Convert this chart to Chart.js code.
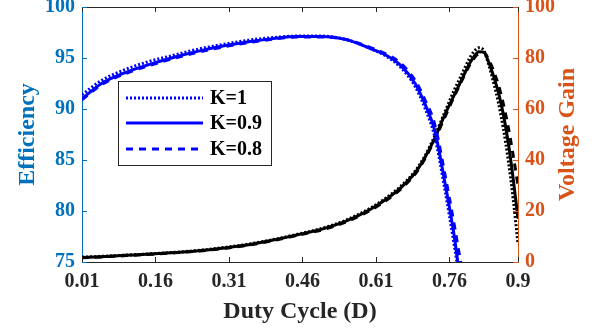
<!DOCTYPE html>
<html>
<head>
<meta charset="utf-8">
<script src="https://cdn.jsdelivr.net/npm/chart.js@4.4.1/dist/chart.umd.min.js"></script>
<style>
  html, body { margin: 0; padding: 0; background: #fff; }
</style>
</head>
<body>
<canvas id="chart" width="595" height="332"></canvas>
<script>
// data
const duty = [0.01, 0.05, 0.10, 0.15, 0.20, 0.25, 0.30, 0.35, 0.40, 0.45, 0.50, 0.55, 0.60,
              0.63, 0.66, 0.69, 0.71, 0.73, 0.75, 0.77, 0.78, 0.79, 0.80, 0.81, 0.82, 0.83,
              0.84, 0.85, 0.86, 0.87, 0.88, 0.89, 0.90];

// efficiency (%), left axis - stops once the curve leaves the plot
const effK1  = [91.4, 92.8, 93.9, 94.7, 95.3, 95.9, 96.35, 96.75, 97.0, 97.15, 97.15, 96.8, 95.9,
                95.2, 94.1, 92.2, 90.1, 87.3, 82.3, 76.6, 73.5, 70.0];
const effK09 = [91.0, 92.5, 93.6, 94.4, 95.1, 95.7, 96.2, 96.6, 96.9, 97.1, 97.1, 96.8, 95.9,
                95.3, 94.3, 92.5, 90.5, 87.9, 83.0, 77.5, 74.0, 71.0];
const effK08 = [90.9, 92.4, 93.5, 94.3, 95.0, 95.6, 96.1, 96.5, 96.85, 97.05, 97.05, 96.8, 96.0,
                95.4, 94.5, 92.8, 90.9, 88.5, 83.8, 78.6, 75.8, 73.0];

// voltage gain, right axis
const gainK1  = [1.9, 2.2, 2.7, 3.2, 3.8, 4.6, 5.7, 7.0, 8.8, 10.9, 13.2, 16.5, 21.3,
                 25.0, 29.6, 35.6, 41.6, 49.4, 58.5, 67.5, 71.5, 75.5, 79.5, 82.5, 84.0, 83.0,
                 77.5, 70.5, 62.5, 52.5, 40.0, 25.0, 7.0];
const gainK09 = [1.8, 2.1, 2.6, 3.1, 3.7, 4.4, 5.5, 6.8, 8.6, 10.7, 12.9, 16.1, 20.8,
                 24.5, 29.0, 35.0, 41.0, 48.5, 57.5, 65.5, 69.5, 73.5, 77.5, 80.5, 82.5, 82.3,
                 78.5, 73.0, 66.5, 58.0, 47.0, 33.0, 17.0];
const gainK08 = [1.7, 2.0, 2.5, 3.0, 3.6, 4.3, 5.3, 6.6, 8.4, 10.5, 12.6, 15.8, 20.4,
                 24.0, 28.5, 34.5, 40.5, 48.0, 56.5, 65.0, 69.0, 73.0, 76.8, 79.8, 81.8, 82.2,
                 79.5, 75.0, 69.5, 62.0, 53.0, 42.0, 30.0];

const xTicks = [0.01, 0.16, 0.31, 0.46, 0.61, 0.76, 0.9];
const xTickLabels = ['0.01', '0.16', '0.31', '0.46', '0.61', '0.76', '0.9'];
const legendNames = ['K=1', 'K=0.9', 'K=0.8'];

const BLUE_AX = '#0072BD';
const ORANGE_AX = '#D95319';
const SERIF = '"Liberation Serif", "Times New Roman", serif';

function pts(ys) {
  return ys.map((y, i) => ({ x: duty[i], y: y }));
}

function line(label, ys, color, dash, axis) {
  return {
    label: label,
    data: pts(ys),
    yAxisID: axis,
    borderColor: color,
    backgroundColor: color,
    borderWidth: 3,
    borderDash: dash,
    pointRadius: 0,
    cubicInterpolationMode: 'monotone',
    fill: false
  };
}

const DOT = [2, 2];
const DASH = [7, 6];

const datasets = [
  line(legendNames[0], effK1, '#0000FF', DOT, 'y'),
  line(legendNames[1], effK09, '#0000FF', [], 'y'),
  line(legendNames[2], effK08, '#0000FF', DASH, 'y'),
  line('gain K=1', gainK1, '#000000', DOT, 'y2'),
  line('gain K=0.9', gainK09, '#000000', [], 'y2'),
  line('gain K=0.8', gainK08, '#000000', DASH, 'y2')
];

// box line on top + inward tick marks (matlab style) + right title reading upwards
const frame = {
  id: 'frame',
  afterDatasetsDraw(chart) {
    const ctx = chart.ctx;
    const a = chart.chartArea;
    const sx = chart.scales.x, sy = chart.scales.y, sy2 = chart.scales.y2;
    ctx.save();
    ctx.lineWidth = 1;
    ctx.strokeStyle = '#262626';
    ctx.beginPath();
    ctx.moveTo(a.left, a.top + 0.5);
    ctx.lineTo(a.right, a.top + 0.5);
    sx.ticks.forEach(t => {
      const px = Math.round(sx.getPixelForValue(t.value)) + 0.5;
      ctx.moveTo(px, a.bottom);
      ctx.lineTo(px, a.bottom - 5);
      ctx.moveTo(px, a.top);
      ctx.lineTo(px, a.top + 5);
    });
    ctx.stroke();
    ctx.strokeStyle = BLUE_AX;
    ctx.beginPath();
    sy.ticks.forEach(t => {
      const py = Math.round(sy.getPixelForValue(t.value)) + 0.5;
      ctx.moveTo(a.left, py);
      ctx.lineTo(a.left + 5, py);
    });
    ctx.stroke();
    ctx.strokeStyle = ORANGE_AX;
    ctx.beginPath();
    sy2.ticks.forEach(t => {
      const py = Math.round(sy2.getPixelForValue(t.value)) + 0.5;
      ctx.moveTo(a.right, py);
      ctx.lineTo(a.right - 5, py);
    });
    ctx.stroke();

    ctx.translate(568, (a.top + a.bottom) / 2);
    ctx.rotate(-Math.PI / 2);
    ctx.fillStyle = ORANGE_AX;
    ctx.font = 'bold 24px ' + SERIF;
    ctx.textAlign = 'center';
    ctx.textBaseline = 'middle';
    ctx.fillText('Voltage Gain', 0, 0);
    ctx.restore();
  }
};

// legend box inside plot
const boxLegend = {
  id: 'boxLegend',
  afterDraw(chart) {
    const ctx = chart.ctx;
    const left = 118, top = 81, w = 153, h = 84;
    ctx.save();
    ctx.fillStyle = '#fff';
    ctx.fillRect(left, top, w, h);
    ctx.strokeStyle = '#262626';
    ctx.lineWidth = 1;
    ctx.strokeRect(left + 0.5, top + 0.5, w, h);
    const rows = [98, 123, 149];
    for (let i = 0; i < 3; i++) {
      const ds = chart.data.datasets[i];
      ctx.strokeStyle = ds.borderColor;
      ctx.lineWidth = 3;
      ctx.setLineDash(ds.borderDash);
      ctx.beginPath();
      ctx.moveTo(126, rows[i]);
      ctx.lineTo(203, rows[i]);
      ctx.stroke();
      ctx.setLineDash([]);
      ctx.fillStyle = '#000';
      ctx.font = 'bold 20px ' + SERIF;
      ctx.textBaseline = 'middle';
      ctx.fillText(ds.label, 210, rows[i] + 1);
    }
    ctx.restore();
  }
};

function noPadY(scale) {
  scale.paddingTop = 0;
  scale.paddingBottom = 0;
}

const config = {
  type: 'line',
  data: { datasets: datasets },
  options: {
    responsive: false,
    animation: false,
    layout: { padding: { top: 7, left: 0, right: 0, bottom: 0 } },
    plugins: {
      legend: { display: false },
      tooltip: { enabled: false }
    },
    scales: {
      x: {
        type: 'linear',
        min: 0.01,
        max: 0.9,
        afterBuildTicks: s => { s.ticks = xTicks.map(v => ({ value: v })); },
        afterFit: s => { s.height = 70; s.paddingLeft = 0; s.paddingRight = 0; },
        grid: { display: false, drawTicks: false },
        border: { display: true, color: '#262626', width: 1 },
        ticks: {
          padding: 8,
          color: '#262626',
          maxRotation: 0,
          autoSkip: false,
          font: { family: SERIF, size: 20, weight: 'bold' },
          callback: (v) => {
            const i = xTicks.indexOf(v);
            return i >= 0 ? xTickLabels[i] : '';
          }
        },
        title: {
          display: true,
          text: 'Duty Cycle (D)',
          color: '#262626',
          padding: { top: 0, bottom: 6 },
          font: { family: SERIF, size: 24, weight: 'bold' }
        }
      },
      y: {
        position: 'left',
        min: 75,
        max: 100,
        afterFit: s => { s.width = 82; noPadY(s); },
        grid: { display: false, drawTicks: false },
        border: { display: true, color: BLUE_AX, width: 1 },
        ticks: {
          stepSize: 5,
          padding: 7,
          color: BLUE_AX,
          font: { family: SERIF, size: 20, weight: 'bold' }
        },
        title: {
          display: true,
          text: 'Efficiency',
          color: BLUE_AX,
          padding: { top: 13, bottom: 0 },
          font: { family: SERIF, size: 24, weight: 'bold' }
        }
      },
      y2: {
        position: 'right',
        min: 0,
        max: 100,
        afterFit: s => { s.width = 77; noPadY(s); },
        grid: { display: false, drawTicks: false },
        border: { display: true, color: ORANGE_AX, width: 1 },
        ticks: {
          stepSize: 20,
          padding: 7,
          color: ORANGE_AX,
          font: { family: SERIF, size: 20, weight: 'bold' }
        },
        title: { display: false }
      }
    }
  },
  plugins: [frame, boxLegend]
};

let ctx = document.getElementById('chart').getContext('2d');
let chart = new Chart(ctx, config);
</script>
</body>
</html>
